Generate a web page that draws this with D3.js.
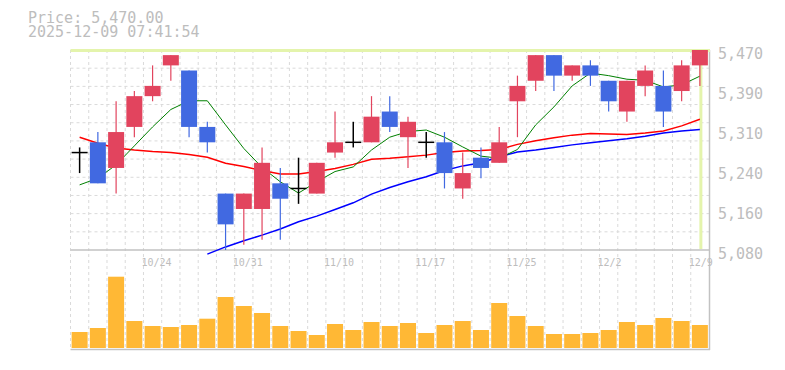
<!DOCTYPE html>
<html>
<head>
<meta charset="utf-8">
<script src="https://cdn.jsdelivr.net/npm/d3@7"></script>
<style>
  html, body { margin: 0; padding: 0; background: #fff; }
  svg { display: block; }
  text { font-family: "DejaVu Sans Mono", "Liberation Mono", monospace; fill: #bdbdbd; }
</style>
</head>
<body>
<div id="chart"></div>
<script>
// 日足データ (読み取り値)
const dates = ['10/20','10/21','10/22','10/23','10/24','10/27','10/28','10/29','10/30','10/31',
  '11/4','11/5','11/6','11/7','11/10','11/11','11/12','11/13','11/14','11/17',
  '11/18','11/19','11/20','11/21','11/25','11/26','11/27','11/28','12/1','12/2',
  '12/3','12/4','12/5','12/8','12/9']
const open  = [5270,5290,5240,5320,5380,5440,5430,5320,5190,5160,5160,5210,5200,5190,5270,5290,5290,5350,5300,5290,5290,5200,5260,5250,5370,5410,5460,5420,5440,5410,5350,5400,5400,5390,5440]
const high  = [5280,5310,5370,5390,5440,5460,5430,5330,5190,5190,5280,5240,5260,5250,5350,5330,5380,5380,5340,5310,5310,5270,5280,5320,5420,5460,5460,5440,5450,5410,5410,5440,5430,5450,5470]
const low   = [5230,5210,5190,5300,5370,5410,5300,5270,5080,5090,5100,5100,5170,5190,5260,5280,5290,5310,5240,5260,5200,5180,5220,5250,5300,5390,5390,5410,5400,5350,5330,5380,5320,5370,5400]
const close = [5270,5210,5310,5380,5400,5460,5320,5290,5130,5190,5250,5180,5200,5250,5290,5290,5340,5320,5330,5290,5230,5230,5240,5290,5400,5460,5420,5440,5420,5370,5410,5430,5350,5440,5470]
const volume = [160,200,713,270,220,210,230,293,510,420,350,220,170,130,240,180,260,220,250,150,230,270,180,450,320,220,140,140,150,180,260,230,300,270,230]

// 移動平均線 (読み取り値)
const maShort = [5207,5220,5246,5283,5320,5354,5371,5371,5324,5278,5241,5213,5191,5213,5233,5242,5275,5300,5311,5314,5300,5281,5263,5259,5276,5324,5359,5400,5425,5420,5413,5411,5398,5402,5419]
const maMid   = [5300,5288,5279,5275,5272,5270,5266,5261,5249,5243,5235,5228,5228,5233,5239,5247,5257,5259,5262,5265,5270,5273,5274,5276,5286,5293,5299,5304,5307,5306,5305,5308,5312,5322,5335]
const maLong  = [null,null,null,null,null,null,null,5072,5086,5098,5109,5121,5135,5146,5159,5172,5189,5202,5213,5223,5235,5244,5250,5262,5271,5275,5280,5285,5289,5293,5297,5302,5308,5312,5315]

const priceTicks = [5080, 5158, 5236, 5314, 5392, 5470]
const priceLabels = ['5,080','5,160','5,240','5,310','5,390','5,470']
const dateTicks = ['10/24','10/31','11/10','11/17','11/25','12/2','12/9']

const lastPrice = 5470
const titleLines = ['Price: 5,470.00', '2025-12-09 07:41:54']

const width = 785
const height = 370
const plotLeft = 70.5, plotRight = 709
const plotTop = 50, priceBottom = 250, volTop = 250, volBottom = 348

const candles = dates.map((d, i) => ({
  date: d, open: open[i], high: high[i], low: low[i], close: close[i], volume: volume[i]
}))

const svg = d3.select('#chart')
  .append('svg')
  .attr('width', width)
  .attr('height', height)

svg.append('rect').attr('width', width).attr('height', height).attr('fill', '#fff')

const x = d3.scaleBand().domain(dates).range([plotLeft, plotRight]).padding(0)
const y = d3.scaleLinear().domain([5080, 5470]).range([priceBottom, plotTop])
const yVol = d3.scaleLinear().domain([0, 980]).range([volBottom, volTop])

const bw = x.bandwidth()
const cw = 16
const cx = d => x(d) + bw / 2

// グリッド
const grid = svg.append('g')
grid.selectAll('line.v')
  .data(dates)
  .enter().append('line')
  .attr('x1', d => x(d)).attr('x2', d => x(d))
  .attr('y1', plotTop).attr('y2', 349.5)
  .attr('stroke', '#dadada')
  .attr('stroke-dasharray', '3,3')

grid.selectAll('line.h')
  .data(d3.range(1, 11))
  .enter().append('line')
  .attr('x1', plotLeft).attr('x2', plotRight)
  .attr('y1', i => plotTop + i * (priceBottom - plotTop) / 11)
  .attr('y2', i => plotTop + i * (priceBottom - plotTop) / 11)
  .attr('stroke', '#dadada')
  .attr('stroke-dasharray', '3,3')

// 枠線
const frame = svg.append('g').attr('stroke', '#c2c2c2').attr('stroke-width', 1.5)
frame.append('line').attr('x1', plotLeft).attr('x2', 710).attr('y1', priceBottom).attr('y2', priceBottom)
frame.append('line').attr('x1', plotLeft).attr('x2', 710).attr('y1', 349.5).attr('y2', 349.5)
frame.append('line').attr('x1', 709.5).attr('x2', 709.5).attr('y1', plotTop).attr('y2', 350)

// 現在値ライン
svg.append('line')
  .attr('x1', plotLeft).attr('x2', 710)
  .attr('y1', y(lastPrice) + 0.5).attr('y2', y(lastPrice) + 0.5)
  .attr('stroke', '#e4f4ac').attr('stroke-width', 3)
svg.append('line')
  .attr('x1', cx(dates[dates.length - 1]) + 1).attr('x2', cx(dates[dates.length - 1]) + 1)
  .attr('y1', plotTop).attr('y2', priceBottom - 1)
  .attr('stroke', '#e4f4ac').attr('stroke-width', 3)

// 出来高
svg.append('g')
  .selectAll('rect')
  .data(candles)
  .enter().append('rect')
  .attr('x', d => cx(d.date) - cw / 2)
  .attr('width', cw)
  .attr('y', d => yVol(d.volume))
  .attr('height', d => yVol(0) - yVol(d.volume))
  .attr('fill', '#ffb835')

// 移動平均
const drawMA = (values, color, w) => {
  const line = d3.line()
    .defined(d => d != null)
    .x((d, i) => cx(dates[i]))
    .y(d => y(d))
  svg.append('path')
    .datum(values)
    .attr('d', line)
    .attr('fill', 'none')
    .attr('stroke', color)
    .attr('stroke-width', w)
}
drawMA(maLong, '#0000ff', 1.5)
drawMA(maMid, '#ff0000', 1.5)
drawMA(maShort, '#008000', 1)

// ローソク足
const colorOf = d => d.close > d.open ? '#e2445e' : (d.close < d.open ? '#4169e1' : '#000')
const cg = svg.append('g')
cg.selectAll('line.wick')
  .data(candles)
  .enter().append('line')
  .attr('x1', d => cx(d.date)).attr('x2', d => cx(d.date))
  .attr('y1', d => y(d.high)).attr('y2', d => y(d.low))
  .attr('stroke', colorOf)
  .attr('stroke-width', d => d.open === d.close ? 1.5 : 1.2)

cg.selectAll('rect.body')
  .data(candles.filter(d => d.open !== d.close))
  .enter().append('rect')
  .attr('x', d => cx(d.date) - cw / 2)
  .attr('width', cw)
  .attr('y', d => y(Math.max(d.open, d.close)))
  .attr('height', d => y(Math.min(d.open, d.close)) - y(Math.max(d.open, d.close)))
  .attr('fill', colorOf)

cg.selectAll('line.doji')
  .data(candles.filter(d => d.open === d.close))
  .enter().append('line')
  .attr('x1', d => cx(d.date) - cw / 2).attr('x2', d => cx(d.date) + cw / 2)
  .attr('y1', d => y(d.close)).attr('y2', d => y(d.close))
  .attr('stroke', '#000')
  .attr('stroke-width', 1.5)

// 価格軸
const yAxis = svg.append('g')
  .attr('transform', `translate(710,0)`)
  .call(d3.axisRight(y).tickValues(priceTicks).tickSize(0).tickFormat((d, i) => priceLabels[i]))
yAxis.select('.domain').remove()
yAxis.selectAll('text')
  .attr('x', 8).attr('dy', 8)
  .attr('fill', '#bdbdbd')
  .style('font-size', '15px')
  .style('font-family', '"DejaVu Sans Mono", monospace')

// 日付軸
const xAxis = svg.append('g')
  .attr('transform', `translate(0,${priceBottom})`)
  .call(d3.axisBottom(x).tickValues(dateTicks).tickSize(0))
xAxis.select('.domain').remove()
xAxis.selectAll('text')
  .attr('x', -bw / 2 - 2).attr('y', 16).attr('dy', 0)
  .attr('text-anchor', 'start')
  .attr('fill', '#bdbdbd')
  .style('font-size', '10px')
  .style('font-family', '"DejaVu Sans Mono", monospace')

// タイトル
svg.selectAll('text.title')
  .data(titleLines)
  .enter().append('text')
  .attr('class', 'title')
  .attr('x', 28)
  .attr('y', (d, i) => 23 + i * 14)
  .style('font-size', '15px')
  .text(d => d)
</script>
</body>
</html>
